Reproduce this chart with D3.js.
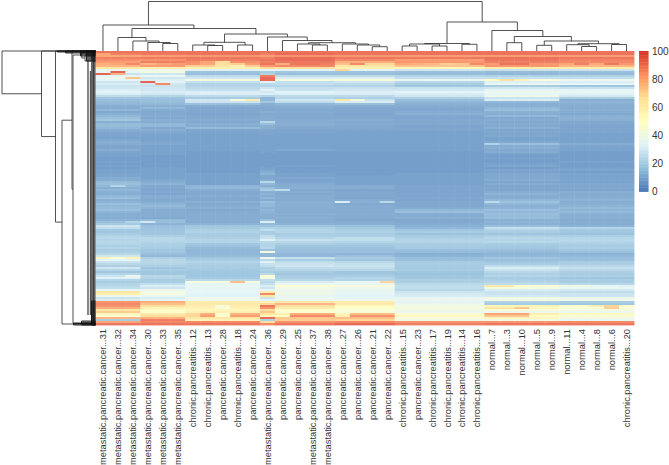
<!DOCTYPE html>
<html><head><meta charset="utf-8">
<script src="https://cdn.jsdelivr.net/npm/d3@7/dist/d3.min.js"></script>
<style>html,body{margin:0;padding:0;background:#fff}svg{display:block}</style></head>
<body><svg id="c" width="669" height="465"></svg>
<script>
const columnLabels = ["metastatic.pancreatic.cancer...31","metastatic.pancreatic.cancer...32","metastatic.pancreatic.cancer...34","metastatic.pancreatic.cancer...30","metastatic.pancreatic.cancer...33","metastatic.pancreatic.cancer...35","chronic.pancreatitis...12","chronic.pancreatitis...13","pancreatic.cancer...28","chronic.pancreatitis...18","pancreatic.cancer...24","metastatic.pancreatic.cancer...36","pancreatic.cancer...29","pancreatic.cancer...25","metastatic.pancreatic.cancer...37","metastatic.pancreatic.cancer...38","pancreatic.cancer...27","pancreatic.cancer...26","pancreatic.cancer...21","pancreatic.cancer...22","chronic.pancreatitis...15","pancreatic.cancer...23","chronic.pancreatitis...17","chronic.pancreatitis...19","chronic.pancreatitis...14","chronic.pancreatitis...16","normal...7","normal...3","normal...10","normal...5","normal...9","normal...11","normal...4","normal...8","normal...6","chronic.pancreatitis...20"];
const columnGroup = [0,0,0,1,1,1,2,2,2,2,2,3,4,4,4,4,5,5,5,5,6,6,6,6,6,6,7,7,7,7,7,8,8,8,8,8];
// each row: value read for column blocks 0..8
const rowValues = [
[93,93,93,93,93,93,93,93,93],[90,92,93,90,94,93,93,93,93],[82,84,85,84,86,85,84,84,84],[90,91,92,90,94,92,91,93,92],
[87,86,90,92,94,88,84,92,89],[84,90,87,90,92,80,85,90,88],[88,82,80,93,90,76,78,95,84],[78,84,72,85,88,66,75,85,78],
[66,62,60,70,68,60,56,62,62],[36,38,32,34,33,33,28,26,27],[34,42,15,18,16,15,14,13,14],[26,28,14,20,14,14,13,12,13],
[33,36,23,90,23,23,21,20,20],[38,28,28,95,30,31,25,25,24],[34,31,42,95,42,44,36,44,38],[28,33,25,32,25,28,22,31,30],
[30,28,20,23,25,23,18,36,34],[26,26,21,21,21,21,16,18,16],[28,28,23,28,25,26,26,28,26],[31,28,25,33,26,28,29,34,33],
[33,30,31,28,33,31,33,38,36],[30,28,31,31,31,30,30,34,32],[23,21,23,21,23,23,28,38,29],[16,15,18,12,21,19,19,26,18],
[14,14,28,12,28,26,14,30,10],[13,14,27,16,24,30,12,12,11],[12,12,14,10,12,14,10,10,10],[10,10,9,9,10,9,9,10,9],
[9,12,8,8,9,8,8,12,9],[12,9,8,8,8,8,8,14,10],[8,8,8,10,9,8,9,10,9],[10,8,7,8,8,7,10,9,8],
[12,9,8,9,8,8,8,12,10],[14,8,8,9,8,8,7,8,11],[16,10,9,9,9,9,8,9,10],[10,9,8,22,9,8,8,8,8],
[13,12,10,14,10,9,8,9,8],[13,12,9,10,9,8,7,8,7],[12,8,13,10,8,8,7,10,7],[9,10,7,8,7,7,7,7,7],
[8,8,7,7,7,6,6,8,7],[7,7,6,7,6,6,6,7,6],[7,6,6,6,6,6,6,8,6],[6,6,6,6,6,6,6,6,6],
[8,6,6,6,6,6,6,6,6],[10,7,6,6,6,6,6,8,6],[9,8,6,6,6,6,6,14,9],[7,6,6,6,6,6,6,9,7],
[7,6,6,6,6,6,6,10,6],[9,6,6,6,8,6,6,8,6],[7,6,5,6,5,5,5,9,5],[6,6,5,5,5,5,5,6,5],
[6,5,5,5,5,5,5,5,5],[5,5,5,5,5,5,5,6,5],[5,5,5,5,5,5,5,5,5],[6,5,5,5,5,5,5,5,6],
[5,5,5,5,5,5,5,6,5],[6,5,5,5,6,5,5,7,5],[5,6,5,6,5,5,5,5,6],[6,6,5,7,5,5,5,7,7],
[6,6,5,9,5,5,5,6,5],[7,6,6,11,6,5,6,8,7],[7,6,6,8,6,6,6,8,6],[9,6,6,7,8,6,6,8,6],
[9,8,6,9,6,6,6,9,7],[13,9,6,22,7,6,6,7,6],[14,11,6,12,9,6,6,9,8],[12,8,11,9,9,9,7,7,7],
[10,8,12,14,10,9,7,8,8],[12,7,9,18,8,7,7,7,7],[10,8,8,10,9,8,7,9,10],[9,7,8,11,8,8,7,11,9],
[12,9,9,9,9,8,7,9,9],[14,9,8,12,9,7,8,9,10],[10,8,8,9,9,9,7,12,11],[11,9,10,14,10,10,8,15,9],
[14,11,8,12,10,8,8,12,10],[12,13,9,13,10,9,8,10,11],[13,11,10,10,10,9,9,11,13],[14,9,8,12,9,9,12,14,11],
[11,9,9,11,9,9,14,12,13],[9,9,9,10,10,10,9,14,10],[10,9,9,10,9,9,9,13,10],[9,8,9,9,10,9,10,14,10],
[11,13,9,14,9,8,8,10,9],[14,14,9,30,9,9,8,11,10],[17,11,11,13,11,10,9,10,9],[27,14,16,15,16,15,10,14,11],
[24,15,17,20,19,17,12,25,21],[17,15,19,24,21,19,16,20,17],[16,16,20,18,21,20,18,18,16],[18,16,18,19,18,18,15,16,15],
[21,19,18,24,19,19,18,19,19],[22,22,19,26,21,24,19,22,21],[21,22,21,32,25,24,21,21,22],[22,21,21,22,22,21,21,22,21],
[21,19,16,21,19,18,18,18,19],[19,19,15,21,16,16,18,17,18],[21,18,13,22,15,15,17,16,19],[18,16,12,15,14,14,14,14,16],
[19,16,12,42,14,14,13,13,14],[22,14,12,12,12,11,10,11,11],[28,12,13,12,12,14,11,12,12],[58,19,16,38,25,18,14,16,14],
[34,22,18,22,18,16,14,14,14],[26,22,21,32,24,22,18,16,18],[22,21,19,26,26,25,18,18,19],[19,19,18,24,28,26,18,24,22],
[28,16,18,19,24,24,17,30,25],[21,18,17,21,21,22,18,26,22],[16,16,16,18,18,16,16,22,19],[21,16,16,22,16,16,15,19,18],
[27,22,16,48,18,18,16,21,19],[32,21,17,42,19,21,16,18,16],[21,18,22,24,22,21,19,19,18],[18,18,44,22,30,36,19,21,18],
[21,24,34,25,36,35,22,24,22],[22,30,36,30,46,44,24,46,40],[24,27,35,27,40,38,24,42,36],[34,38,34,34,38,36,22,30,29],
[66,40,35,62,38,35,27,26,24],[62,43,33,88,40,35,29,27,27],[40,36,33,66,35,33,30,29,27],[27,30,38,27,36,34,36,40,38],
[30,34,38,33,38,38,37,42,40],[86,80,62,58,64,62,33,20,18],[88,76,64,70,78,64,38,18,16],[86,68,62,92,68,54,42,56,48],
[80,58,60,86,62,50,42,66,46],[66,52,56,68,50,46,40,44,42],[72,48,60,74,48,46,38,38,36],[56,64,78,66,80,76,46,82,54],
[48,68,84,56,88,86,54,74,46],[78,80,66,94,74,76,44,56,42],[18,90,58,20,72,70,40,40,36],[82,88,88,68,86,88,86,86,88],
[92,92,92,88,92,94,90,92,92]];
// single cells that differ from their block: [column, row, value]
const cellValues = [[0,1,82],[0,11,96],[1,10,96],[1,11,78],[2,13,75],[3,15,96],[4,16,88],[7,5,82],[8,5,68],[8,7,66],[9,7,60],
[16,9,70],[16,24,66],[17,24,42],[9,24,44],[10,24,62],[26,14,50],[27,14,68],[28,14,58],[16,75,30],[19,75,22],[1,67,21],[12,69,24],
[26,75,23],[26,46,20],[3,85,28],[2,85,21],[1,103,46],[2,112,38],[9,115,76],[19,115,70],
[0,6,80],[1,6,82],[2,6,88],[3,6,78],[4,6,82],[5,6,84],[6,6,86],[7,6,82],[8,6,68],[9,6,72],[10,6,84],
[12,6,80],[13,6,92],[14,6,92],[15,6,90],[16,6,75],[17,6,88],[18,6,70],[19,6,70],
[20,6,82],[21,6,80],[22,6,78],[23,6,72],[24,6,74],[25,6,88],[26,6,84],[27,6,93],[28,6,93],[29,6,86],[30,6,85],
[31,6,82],[32,6,90],[33,6,80],[34,6,92],[35,6,85],
[26,117,64],[27,117,64],[28,117,50],[33,117,36],[34,117,34],[35,117,32],
[29,131,60],[30,131,60],[29,132,52],[30,132,52],[28,128,74],[29,128,56],[30,128,56],[34,127,70],[34,128,72],[33,127,60],
[6,131,70],[7,131,80],[8,131,48],[8,132,48],[8,128,46],[8,127,46],[6,132,70],[12,131,60],[12,132,52],[16,131,56],[16,132,60]];
const legendTicks = [0,20,40,60,80,100];
const colorStops = ["#4575B4","#91BFDB","#E0F3F8","#FFFFBF","#FEE090","#FC8D59","#D73027"];
// [height, left, right], a plain number is a leaf column
const columnTree = [49.5,
 [26,0,[22.5,
   [13.5,1,[10,2,[8.5,3,[7.5,4,5]]]],
   [17,[8.7,[6,6,[5.5,7,8]],[6,9,10]],
       [14,11,[10.5,12,[8.3,[7,13,[6,14,15]],[7,16,[6,17,[4.3,18,19]]]]]]]]],
 [29,[7.5,[7,[5,20,21],[5,22,23]],[6.7,24,25]],
     [20.5,26,[14.5,[8.3,27,28],[10,[5.7,29,30],[7.3,[6.3,31,[4.5,32,33]],[6.5,34,35]]]]]]];
// same form, a plain number is a leaf row position
const rowTree = [93.5,0,[54,0,[40,0,[33.5,[23.5,0.1,[22.5,[13.7,0.5,[10.5,2,5]],136.2]],136.5]]]];
// packed low merges next to the heatmap: [first row, last row, height]
const rowDense = [[0,137,2.5],[0,5,9],[0,2.5,15],[0,1,30],[0,0.5,38],[125,137,4],[135,137,14],[136,137,22]];
// long stems inside the packed merges: [height, first row, last row]
const rowStems = [[7.5,4.5,132],[5,10,132],[3.7,0,137]];

const svg = d3.select("#c");
const heatLeft=95.5, heatRight=634, heatTop=51, heatBottom=325;
const x = d3.scaleBand().domain(d3.range(columnLabels.length)).range([heatLeft,heatRight]);
const y = d3.scaleBand().domain(d3.range(rowValues.length)).range([heatTop,heatBottom]);
const rowPos = d3.scaleLinear().domain([0,137]).range([heatTop,heatBottom]);
const color = d3.scaleLinear().domain(colorStops.map((_,i)=>i*100/6)).range(colorStops);
const soft = v=>d3.interpolateRgb(color(v),"#fff")(.16);
const cellMap = new Map(cellValues.map(d=>[d[0]+"|"+d[1],d[2]]));
const cells=[];
rowValues.forEach((r,ri)=>columnGroup.forEach((g,ci)=>{
  const k=ci+"|"+ri; cells.push({ci,ri,v:cellMap.has(k)?cellMap.get(k):r[g]});
}));
svg.append("g").selectAll("rect").data(cells).join("rect")
 .attr("x",d=>x(d.ci)).attr("y",d=>y(d.ri)).attr("width",x.bandwidth()+.4).attr("height",y.bandwidth()+.4)
 .attr("fill",d=>soft(d.v));

function layoutTree(t){
  const root=d3.hierarchy(t,d=>Array.isArray(d)?d.slice(1):null);
  root.eachAfter(n=>{
    if(n.children){n.h=n.data[0];n.p=d3.mean(n.children,c=>c.p);}
    else{n.h=0;n.p=n.data;}
  });
  return root;
}
const topY=d3.scaleLinear().domain([0,50]).range([51,1]);
const leftX=d3.scaleLinear().domain([0,95]).range([95.5,0.5]);
const colX=c=>x(c)+x.bandwidth()/2;
const gTop=svg.append("g").attr("fill","none").attr("stroke","#333").attr("stroke-width",.85);
const topRoot=layoutTree(columnTree);
topRoot.eachAfter(n=>{ n.px=n.children?d3.mean(n.children,c=>c.px):colX(n.data); });
topRoot.descendants().filter(n=>n.children).forEach(n=>{
  const [a,b]=n.children,p=d3.path();
  p.moveTo(a.px,topY(a.h));p.lineTo(a.px,topY(n.h));p.lineTo(b.px,topY(n.h));p.lineTo(b.px,topY(b.h));
  gTop.append("path").attr("d",p.toString());
});
const gLeft=svg.append("g").attr("fill","none").attr("stroke","#333").attr("stroke-width",.85);
const leftRoot=layoutTree(rowTree);
leftRoot.descendants().filter(n=>n.children).forEach(n=>{
  const [a,b]=n.children,p=d3.path();
  p.moveTo(leftX(a.h),rowPos(a.p));p.lineTo(leftX(n.h),rowPos(a.p));p.lineTo(leftX(n.h),rowPos(b.p));p.lineTo(leftX(b.h),rowPos(b.p));
  gLeft.append("path").attr("d",p.toString());
});
rowStems.forEach(([h,a,b])=>gLeft.append("line").attr("x1",leftX(h)).attr("x2",leftX(h)).attr("y1",rowPos(a)).attr("y2",rowPos(b)).attr("stroke","#555").attr("stroke-width",1.4));
rowDense.forEach(([a,b,h])=>{
  const p=d3.path();
  d3.range(a,b+.01,.5).forEach(r=>{p.moveTo(leftX(h),rowPos(r));p.lineTo(leftX(0),rowPos(r));});
  p.moveTo(leftX(h),rowPos(a));p.lineTo(leftX(h),rowPos(b));
  gLeft.append("path").attr("d",p.toString()).attr("stroke","#111");
});

const font="'Liberation Sans',Arial,sans-serif";
svg.append("g").selectAll("text").data(columnLabels).join("text")
 .attr("transform",(d,i)=>`translate(${colX(i)+3.5},329) rotate(-90)`)
 .attr("text-anchor","end").attr("font-family",font).attr("font-size",9.3).attr("fill","#333").text(d=>d);

const legendY=d3.scaleLinear().domain([0,100]).range([191.5,51]);
svg.append("g").selectAll("rect").data(d3.range(0,100,1)).join("rect")
 .attr("x",639).attr("width",9.5).attr("y",d=>legendY(d+1)).attr("height",legendY(0)-legendY(1)+.4)
 .attr("fill",d=>color(d+.5));
svg.append("g").selectAll("text").data(legendTicks).join("text")
 .attr("x",652).attr("y",d=>legendY(d)+3.5).attr("font-family",font).attr("font-size",10).attr("fill","#333").text(d=>d);
</script></body></html>
